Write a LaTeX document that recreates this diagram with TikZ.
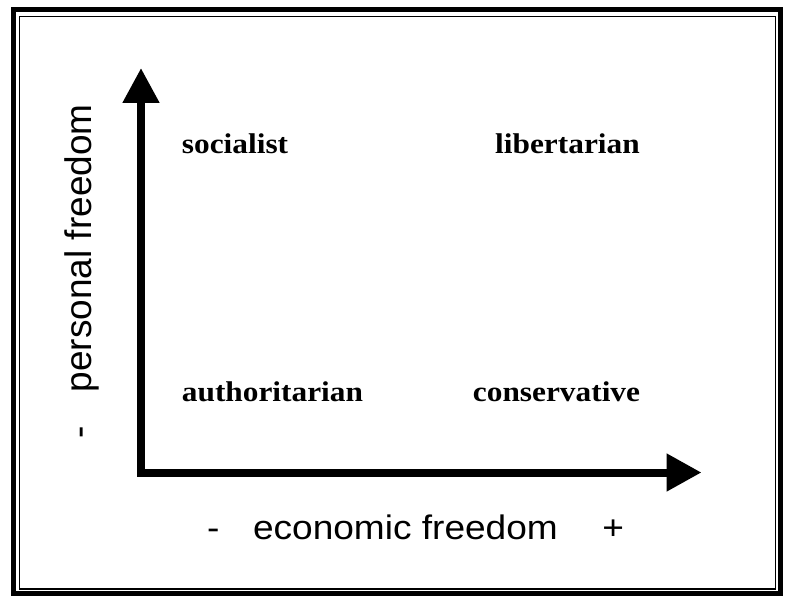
\documentclass[tikz,border=0pt]{standalone}
\usepackage{fontspec}
\setmainfont{Liberation Serif}
\setsansfont{Liberation Sans}
\newfontfamily\quadfont[FakeStretch=1.1]{Liberation Serif}
\newfontfamily\axisfont[FakeStretch=1.09]{Liberation Sans}
\usetikzlibrary{arrows.meta}

\begin{document}
\begin{tikzpicture}[
  x = 1pt, y = -1pt,
  quadrant/.style = {font=\quadfont\bfseries\fontsize{28.5}{30}\selectfont, inner sep=0pt, anchor=base west},
  axislabel/.style = {font=\axisfont\fontsize{34}{36}\selectfont, inner sep=0pt, anchor=base west},
  sidelabel/.style = {font=\sffamily\fontsize{37}{39}\selectfont, inner sep=0pt, anchor=base west, rotate=90},
  axis/.style = {draw, line width=8pt, line join=miter,
    {Triangle[length=35pt,width=35pt]}-{Triangle[length=35pt,width=36pt]}},
]
\useasboundingbox (0,0) rectangle (786,599);

% double frame
\draw[line width=5pt] (13,10) rectangle (780.5,593.5);
\draw[line width=1.2pt] (19.5,16.5) rectangle (775.7,589);

\coordinate (ytop)   at (141,68);
\coordinate (origin) at (141,472.5);
\coordinate (xend)   at (701.5,472.5);

\draw[axis] (ytop) -- (origin) -- (xend);

\node[quadrant] (soc)  at (181.7,153.3) {socialist};
\node[quadrant] (lib)  at (495,153.3)   {libertarian};
\node[quadrant] (auth) at (181.7,401.5) {authoritarian};
\node[quadrant] (cons) at (472.7,401)   {conservative};

\node[axislabel] (econ) at (207,539.3)
  {-\hspace{33.5pt}economic freedom\hspace{44.5pt}+};
\node[sidelabel] (pers) at (91.7,438.6)
  {-\hspace{33.9pt}personal freedom};

\end{tikzpicture}
\end{document}
